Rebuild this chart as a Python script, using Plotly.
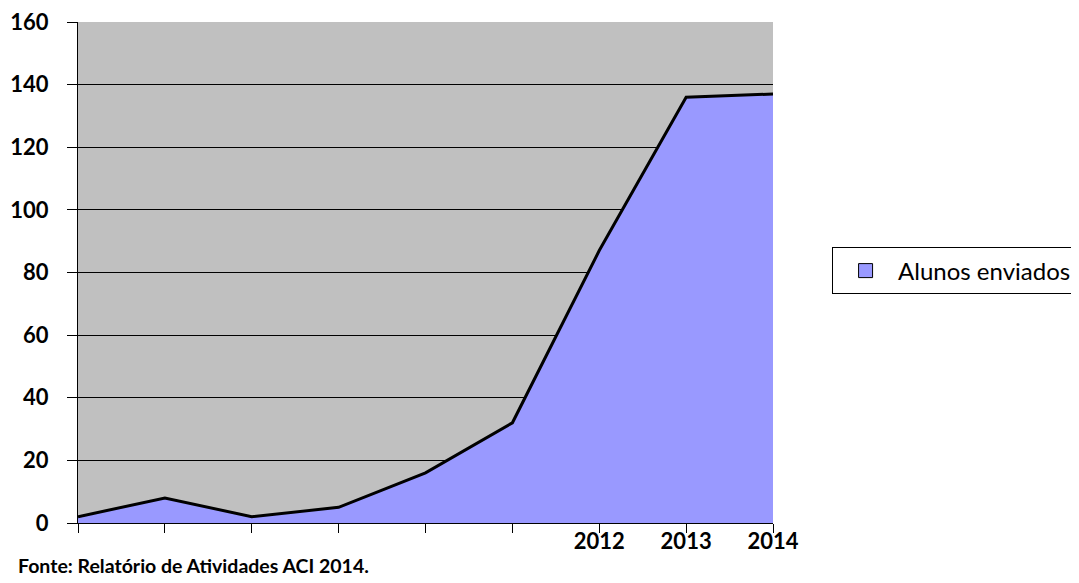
import plotly.graph_objects as go

# categorias (só os três últimos anos aparecem rotulados no gráfico original)
posicoes = [0, 1, 2, 3, 4, 5, 6, 7, 8]
rotulos = ["", "", "", "", "", "", "2012", "2013", "2014"]
alunos = [2, 8, 2, 5, 16, 32, 87, 136, 137]
y_ticks = [0, 20, 40, 60, 80, 100, 120, 140, 160]

fig = go.Figure()
fig.add_trace(go.Scatter(
    x=posicoes, y=alunos, name="Alunos enviados",
    mode="lines", fill="tozeroy", fillcolor="#9999FF",
    line=dict(color="black", width=3), showlegend=False,
))
# entrada de legenda com quadrado (estilo Excel)
fig.add_trace(go.Scatter(
    x=[None], y=[None], name="Alunos enviados", mode="markers",
    marker=dict(symbol="square", size=14, color="#9999FF",
                line=dict(color="black", width=1)),
))

# a página tem 8px de margem no body, por isso l/t menores
fig.update_layout(
    width=1079, height=583,
    margin=dict(l=70, r=314, t=14, b=68, autoexpand=False),
    plot_bgcolor="#C0C0C0", paper_bgcolor="white",
    font=dict(family="Lato", color="black"),
    showlegend=True,
    legend=dict(
        x=1.085, y=0.503, xanchor="left", yanchor="middle",
        bordercolor="black", borderwidth=1, bgcolor="white",
        font=dict(size=24, family="Lato"),
        itemwidth=55,
    ),
    annotations=[dict(
        text="<b>Fonte: Relatório de Atividades ACI 2014.</b>",
        xref="paper", yref="paper", x=-0.089, y=-0.085,
        xanchor="left", yanchor="middle", showarrow=False,
        font=dict(size=19.5, family="Lato"),
    )],
)

fig.update_xaxes(
    range=[0, 8], tickmode="array", tickvals=posicoes,
    ticktext=[f"<b>{t}</b>" for t in rotulos],
    ticks="outside", ticklen=9, tickcolor="black",
    tickfont=dict(size=22), ticklabelstandoff=-10,
    ticklabeloverflow="allow",
    showgrid=False, automargin=False,
    showline=True, linecolor="black", linewidth=1, mirror=False,
    zeroline=False,
)
fig.update_yaxes(
    range=[0, 160], tickmode="array", tickvals=y_ticks,
    ticktext=[f"<b>{v}</b>" for v in y_ticks],
    ticks="outside", ticklen=10, tickcolor="black",
    tickfont=dict(size=22), ticklabelstandoff=14, automargin=False,
    ticklabeloverflow="allow",
    showgrid=True, gridcolor="black", gridwidth=1,
    showline=True, linecolor="black", linewidth=1,
    zeroline=False,
)

fig.write_html("out.html")
